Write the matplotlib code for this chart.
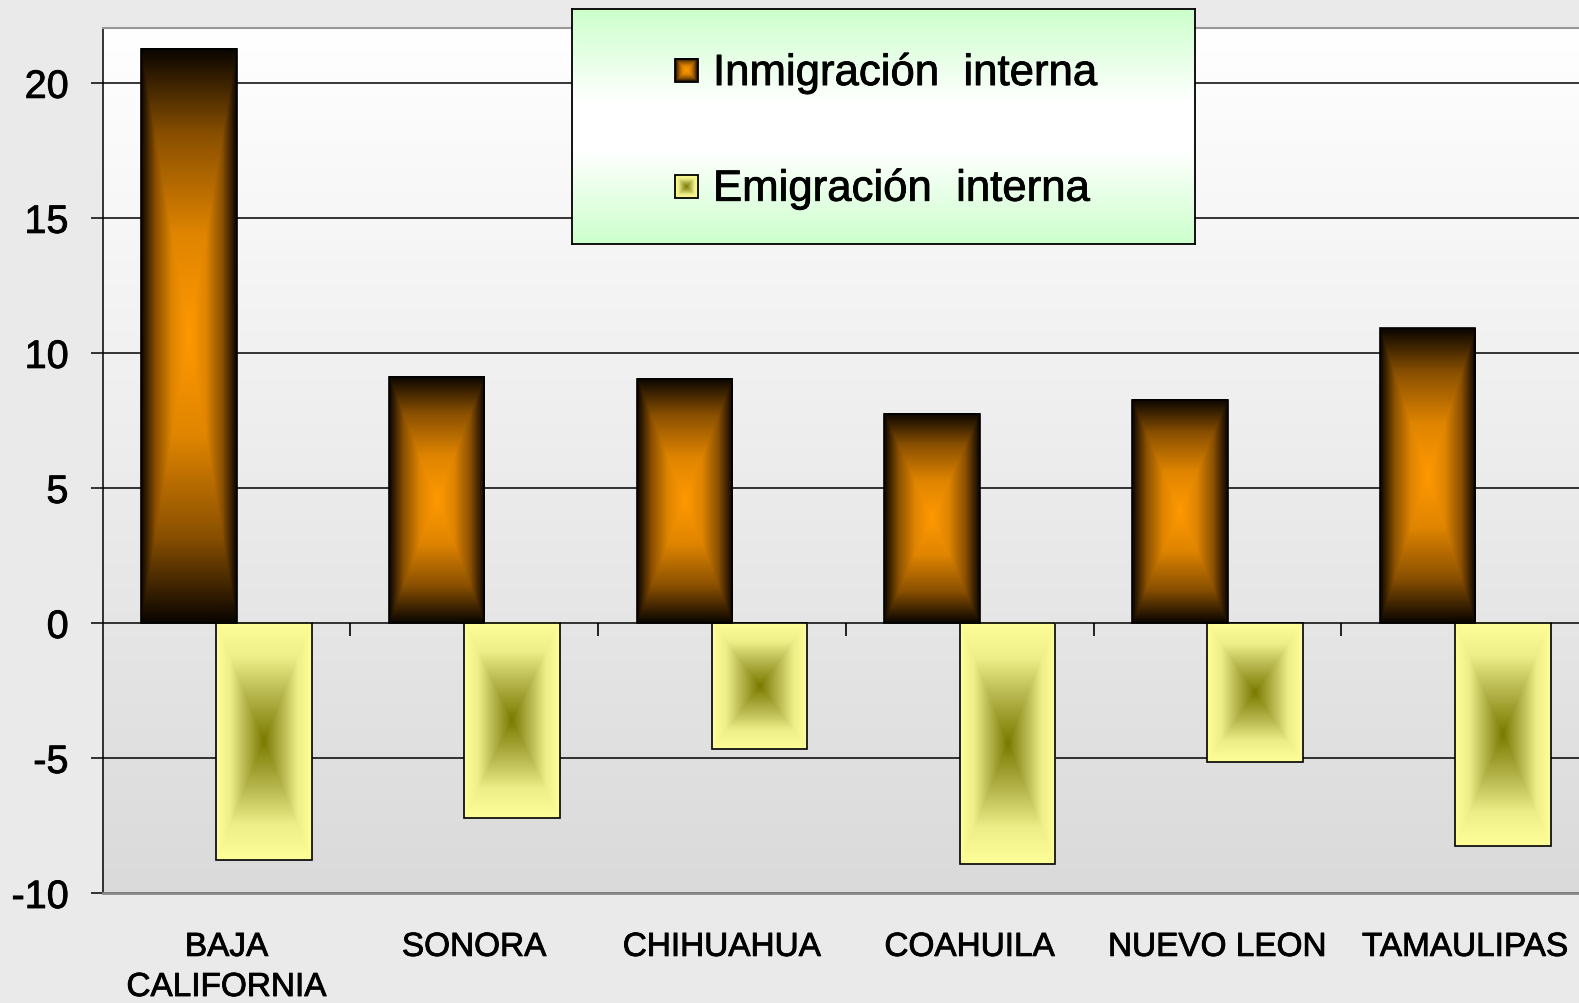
import numpy as np
import matplotlib
matplotlib.use('Agg')
import matplotlib.pyplot as plt
import matplotlib.patheffects as pe
from matplotlib.colors import LinearSegmentedColormap
from matplotlib.patches import Rectangle

categories = ['BAJA\nCALIFORNIA', 'SONORA', 'CHIHUAHUA', 'COAHUILA', 'NUEVO LEON', 'TAMAULIPAS']
inmigracion = [21.27, 9.12, 9.05, 7.75, 8.27, 10.91]
emigracion = [-8.79, -7.23, -4.66, -8.94, -5.14, -8.27]
series_names = ['Inmigración  interna', 'Emigración  interna']
yticks = [-10, -5, 0, 5, 10, 15, 20]

plt.rcParams['font.family'] = ['Liberation Sans', 'DejaVu Sans']
heavy = [pe.withStroke(linewidth=0.6, foreground='black')]

W, H = 1579, 1004
fig = plt.figure(figsize=(W / 100, H / 100), dpi=100, facecolor='#eaeaea')
ax = fig.add_axes([102.7 / W, 1 - 894 / H, (1589 - 102.7) / W, (894 - 28.5) / H])
ax.set_facecolor('none')

cmap_inm = LinearSegmentedColormap.from_list(
    'inm', [(0, '#ff9900'), (0.35, '#e08500'), (0.7, '#8a5000'), (1, '#0a0500')])
cmap_emi = LinearSegmentedColormap.from_list(
    'emi', [(0, '#7a7a00'), (0.4, '#b8b850'), (0.7, '#eeee88'), (1, '#ffff99')])
cmap_bg = LinearSegmentedColormap.from_list('bg', ['#ffffff', '#dadada'])
cmap_lg = LinearSegmentedColormap.from_list(
    'lg', [(0, '#ffffff'), (0.2, '#ffffff'), (1, '#ccffcc')])


def rect_gradient(nx=200, ny=400):
    u = np.linspace(-1, 1, nx)
    v = np.linspace(-1, 1, ny)
    U, V = np.meshgrid(u, v)
    return np.maximum(np.abs(U), np.abs(V))


# axes background gradient
bg = np.linspace(0, 1, 256).reshape(-1, 1)
ax.imshow(bg, cmap=cmap_bg, extent=(0, 1, 0, 1), transform=ax.transAxes,
          aspect='auto', zorder=0, origin='upper')

x = np.arange(len(categories))
w = 0.386
off = 0.152
b1 = ax.bar(x - off, inmigracion, w, facecolor='none', edgecolor='black', lw=1.2, zorder=4)
b2 = ax.bar(x + off, emigracion, w, facecolor='none', edgecolor='black', lw=1.2, zorder=4)
for bars, cmap in ((b1, cmap_inm), (b2, cmap_emi)):
    for p in bars:
        x0, y0 = p.get_x(), p.get_y()
        ww, hh = p.get_width(), p.get_height()
        ax.imshow(rect_gradient(), cmap=cmap, vmin=0, vmax=1,
                  extent=(x0, x0 + ww, y0, y0 + hh), aspect='auto', zorder=3,
                  interpolation='bilinear')

# category divider ticks on the zero line
ax.plot(x[:-1] + 0.5, np.zeros(len(x) - 1), ls='none', marker=3, ms=9,
        mew=1.2, color='black', zorder=5)

ax.set_xlim(-0.5, 5.5)
ax.set_ylim(-10, 22.05)
ax.set_yticks(yticks)
ax.set_yticklabels([str(t) for t in yticks])
ax.set_xticks(x)
ax.set_xticklabels(categories, multialignment='center', linespacing=1.38)
ax.yaxis.grid(True, color='black', lw=1.1)
ax.set_axisbelow(True)

ax.tick_params(axis='y', direction='out', length=8.6, width=1.1, pad=16,
               labelsize=28.5, color='black')
ax.tick_params(axis='x', length=0, pad=28, labelsize=24)
for lab in ax.get_xticklabels() + ax.get_yticklabels():
    lab.set_path_effects(heavy)

ax.spines['left'].set_color('black')
ax.spines['left'].set_linewidth(1.1)
ax.spines['bottom'].set_color('#888888')
ax.spines['bottom'].set_linewidth(2)
ax.spines['top'].set_color('#999999')
ax.spines['top'].set_linewidth(1.5)
ax.spines['right'].set_visible(False)

# legend box
lax = fig.add_axes([572 / W, 1 - 244.7 / H, (1195 - 572) / W, (244.7 - 10) / H])
lax.set_xticks([])
lax.set_yticks([])
lg = np.abs(np.linspace(-1, 1, 256)).reshape(-1, 1)
lax.imshow(lg, cmap=cmap_lg, extent=(0, 1, 0, 1), aspect='auto', zorder=0)
for sp in lax.spines.values():
    sp.set_color('black')
    sp.set_linewidth(1.3)

sq_w = 23 / 623
sq_h = 23 / 234.7
rows = [0.740, 0.242]
baselines = [0.676, 0.183]
for name, cmap, ry, by in zip(series_names, (cmap_inm, cmap_emi), rows, baselines):
    sx = 0.166
    lax.imshow(rect_gradient(40, 40), cmap=cmap, vmin=0, vmax=1,
               extent=(sx, sx + sq_w, ry - sq_h / 2, ry + sq_h / 2),
               aspect='auto', zorder=2)
    lax.add_patch(Rectangle((sx, ry - sq_h / 2), sq_w, sq_h, fill=False,
                            edgecolor='black', lw=1.3, zorder=3))
    lax.text(0.2263, by, name, fontsize=31.5, va='baseline', ha='left', zorder=4,
             path_effects=heavy)
lax.set_xlim(0, 1)
lax.set_ylim(0, 1)

fig.savefig('out.png', dpi=100, facecolor=fig.get_facecolor())
